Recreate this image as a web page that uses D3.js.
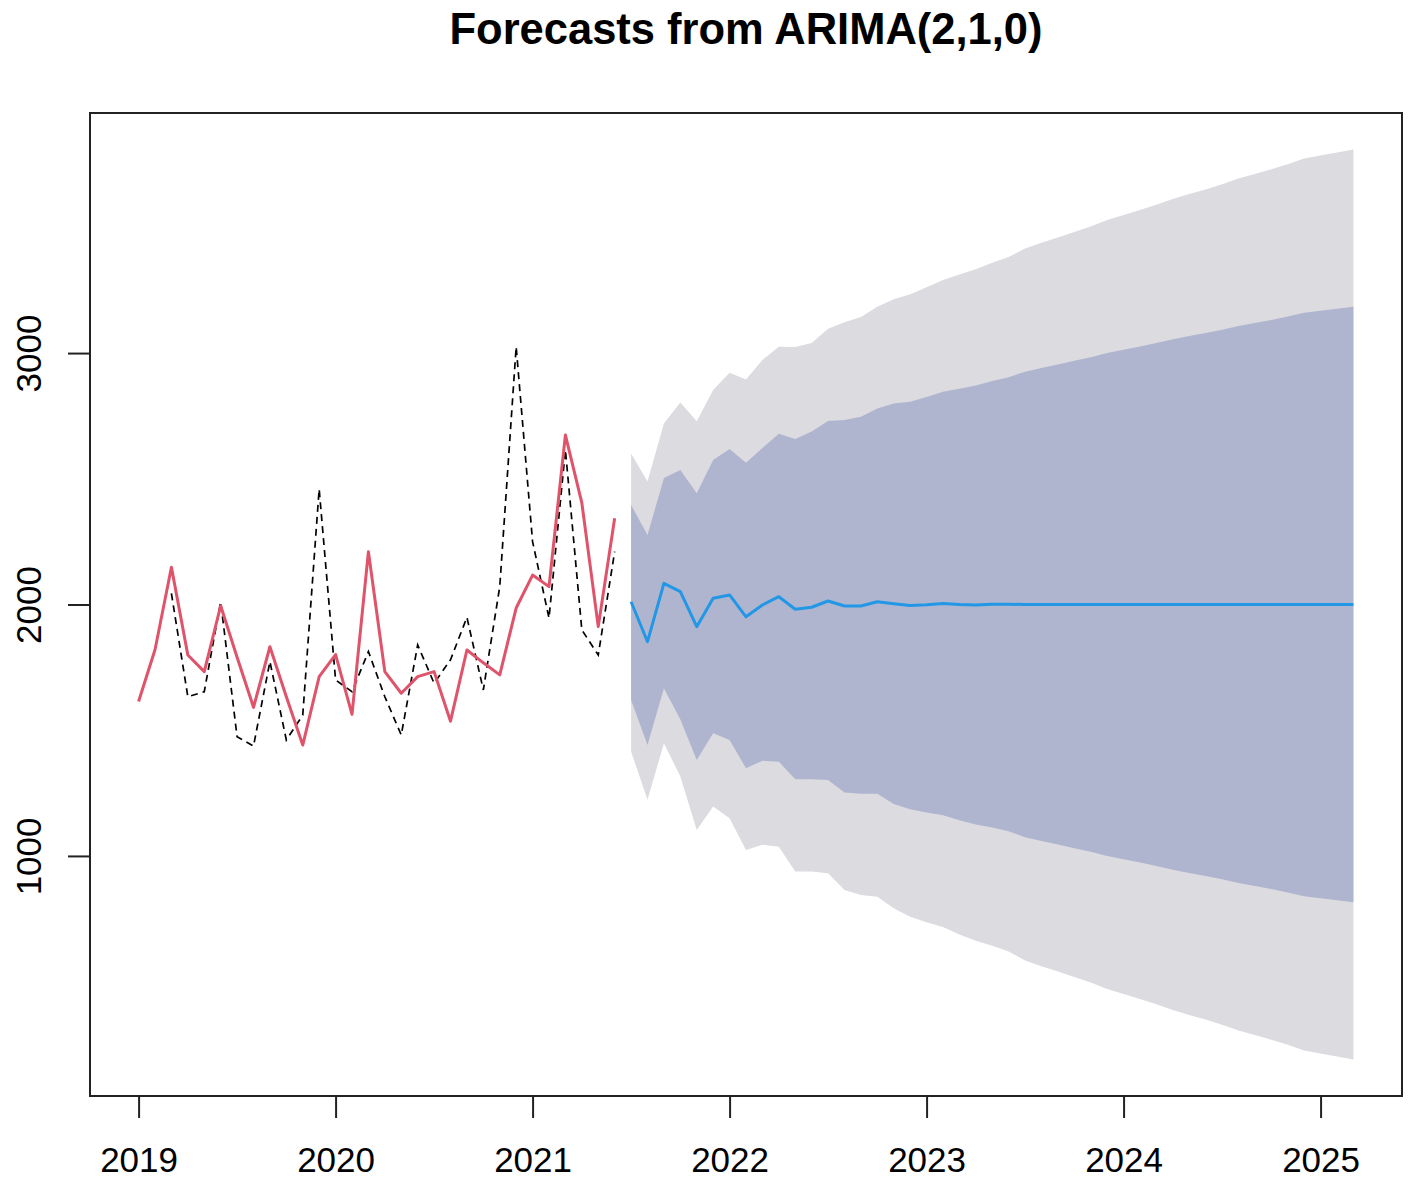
<!DOCTYPE html>
<html>
<head>
<meta charset="utf-8">
<script src="https://cdn.jsdelivr.net/npm/d3@7"></script>
<style>
	body { margin: 0; background: #fff; }
	svg { display: block; }
	text { font-family: 'Liberation Sans', Arial, sans-serif; fill: #000; }
</style>
</head>
<body>
<svg id="chart" width="1417" height="1185"></svg>
<script>
// monthly series, first month Jan 2019
const startYear = 2019
const actual = [1614, 1820, 2148, 1799, 1733, 1995, 1790, 1591, 1832, 1633, 1441, 1713, 1801, 1563, 2210, 1733, 1647,
	1713, 1733, 1536, 1819, 1768, 1720, 1986, 2117, 2071, 2674, 2404, 1912, 2343]

// dashed series, starts at month index 2 (Mar 2019)
const fittedStart = 2
const fitted = [2044, 1633, 1653, 2011, 1474, 1437, 1773, 1461, 1560, 2459, 1700, 1653, 1813, 1633, 1481, 1839, 1687,
	1780, 1949, 1660, 2071, 3025, 2250, 1946, 2615, 1899, 1799, 2210]

// forecast, starts at month index 30 (Jul 2021)
const forecastStart = 30
const forecastMean = [2011, 1852, 2084, 2051, 1912, 2025, 2038, 1951, 1998, 2031, 1981, 1989, 2014, 1994, 1994, 2011,
	2003, 1996, 1999, 2004, 2000, 1998, 2001, 2001, 2000, 2000, 2000, 2000, 2000, 2000, 2000, 2000, 2000, 2000, 2000,
	2000, 2000, 2000, 2000, 2000, 2000, 2000, 2000, 2000, 2000]
const lower80 = [1620, 1441, 1667, 1543, 1382, 1488, 1461, 1349, 1379, 1375, 1305, 1305, 1302, 1252, 1247, 1247, 1207,
	1186, 1173, 1162, 1142, 1125, 1113, 1098, 1074, 1059, 1045, 1031, 1017, 1000, 987, 974, 960, 945, 932, 920, 907, 892,
	880, 868, 855, 840, 832, 824, 816]
const upper80 = [2396, 2276, 2503, 2535, 2442, 2575, 2618, 2564, 2622, 2679, 2658, 2688, 2730, 2734, 2747, 2780, 2799,
	2806, 2825, 2846, 2858, 2871, 2889, 2904, 2926, 2941, 2955, 2969, 2983, 3000, 3013, 3026, 3040, 3055, 3068, 3080,
	3093, 3108, 3120, 3132, 3145, 3160, 3168, 3176, 3184]
const lower95 = [1415, 1223, 1448, 1316, 1103, 1197, 1150, 1024, 1044, 1037, 938, 938, 931, 865, 845, 838, 792, 758, 736,
	717, 688, 663, 643, 620, 584, 561, 540, 518, 497, 471, 451, 431, 410, 387, 367, 349, 329, 306, 288, 269, 249, 226,
	214, 202, 190]
const upper95 = [2601, 2489, 2720, 2803, 2729, 2853, 2922, 2895, 2972, 3025, 3024, 3040, 3097, 3123, 3143, 3184, 3214,
	3234, 3262, 3291, 3312, 3333, 3359, 3382, 3416, 3439, 3460, 3482, 3503, 3529, 3549, 3569, 3590, 3613, 3633, 3651,
	3671, 3694, 3712, 3731, 3751, 3774, 3786, 3798, 3810]

const xTicks = [2019, 2020, 2021, 2022, 2023, 2024, 2025]
const yTicks = [1000, 2000, 3000]
const title = 'Forecasts from ARIMA(2,1,0)'

//Plot region, matches R's default device layout
const box = { left: 90, right: 1402, top: 113, bottom: 1096 }
const svg = d3.select('#chart')

const t = (offset, i) => startYear + (offset + i) / 12

//R pads both axes by 4% of the data range
const tMin = t(0, 0)
const tMax = t(forecastStart, forecastMean.length - 1)
const tPad = (tMax - tMin) * 0.04
const x = d3.scaleLinear().domain([tMin - tPad, tMax + tPad]).range([box.left, box.right])

const allValues = [...actual, ...fitted, ...lower95, ...upper95]
const vMin = d3.min(allValues)
const vMax = d3.max(allValues)
const vPad = (vMax - vMin) * 0.04
const y = d3.scaleLinear().domain([vMin - vPad, vMax + vPad]).range([box.bottom, box.top])

//Prediction intervals, widest first
const band = offset =>
	d3
		.area()
		.x((d, i) => x(t(offset, i)))
		.y0(d => y(d[0]))
		.y1(d => y(d[1]))

svg
	.append('path')
	.datum(d3.zip(lower95, upper95))
	.attr('d', band(forecastStart))
	.attr('fill', '#dbdbe0')

svg
	.append('path')
	.datum(d3.zip(lower80, upper80))
	.attr('d', band(forecastStart))
	.attr('fill', '#b0b5cf')

//Lines
const line = offset =>
	d3
		.line()
		.x((d, i) => x(t(offset, i)))
		.y(d => y(d))

svg
	.append('path')
	.datum(fitted)
	.attr('d', line(fittedStart))
	.attr('fill', 'none')
	.attr('stroke', '#000')
	.attr('stroke-width', 1.7)
	.attr('stroke-dasharray', '7,5')

svg
	.append('path')
	.datum(actual)
	.attr('d', line(0))
	.attr('fill', 'none')
	.attr('stroke', '#df536b')
	.attr('stroke-width', 3)
	.attr('stroke-linejoin', 'round')

svg
	.append('path')
	.datum(forecastMean)
	.attr('d', line(forecastStart))
	.attr('fill', 'none')
	.attr('stroke', '#2297e6')
	.attr('stroke-width', 3)
	.attr('stroke-linejoin', 'round')

//Box around the plot
svg
	.append('rect')
	.attr('x', box.left)
	.attr('y', box.top)
	.attr('width', box.right - box.left)
	.attr('height', box.bottom - box.top)
	.attr('fill', 'none')
	.attr('stroke', '#222')
	.attr('stroke-width', 2)

//Axes, R style: a line spanning the ticks only
function styleAxis(g) {
	g.select('.domain').attr('stroke', '#222').attr('stroke-width', 2)
	g.selectAll('.tick line').attr('stroke', '#222').attr('stroke-width', 2)
	g.selectAll('.tick text').style('font-size', '35px').style('font-family', "'Liberation Sans', Arial, sans-serif")
}

const xAxis = svg
	.append('g')
	.attr('transform', 'translate(0,' + box.bottom + ')')
	.call(d3.axisBottom(x).tickValues(xTicks).tickFormat(d3.format('d')).tickSize(22).tickSizeOuter(0))
xAxis.select('.domain').attr('d', 'M' + x(xTicks[0]) + ',0H' + x(xTicks[xTicks.length - 1]))
styleAxis(xAxis)
xAxis.selectAll('.tick text').attr('y', 76).attr('dy', 0)

const yAxis = svg
	.append('g')
	.attr('transform', 'translate(' + box.left + ',0)')
	.call(d3.axisLeft(y).tickValues(yTicks).tickFormat(d3.format('d')).tickSize(22).tickSizeOuter(0))
yAxis.select('.domain').attr('d', 'M0,' + y(yTicks[0]) + 'V' + y(yTicks[yTicks.length - 1]))
styleAxis(yAxis)
yAxis
	.selectAll('.tick text')
	.attr('x', null)
	.attr('dy', null)
	.attr('text-anchor', 'middle')
	.attr('transform', 'translate(-49,0) rotate(-90)')

//Title
svg
	.append('text')
	.attr('x', (box.left + box.right) / 2)
	.attr('y', 44)
	.attr('text-anchor', 'middle')
	.style('font-size', '43.5px')
	.style('font-weight', 'bold')
	.text(title)
</script>
</body>
</html>
